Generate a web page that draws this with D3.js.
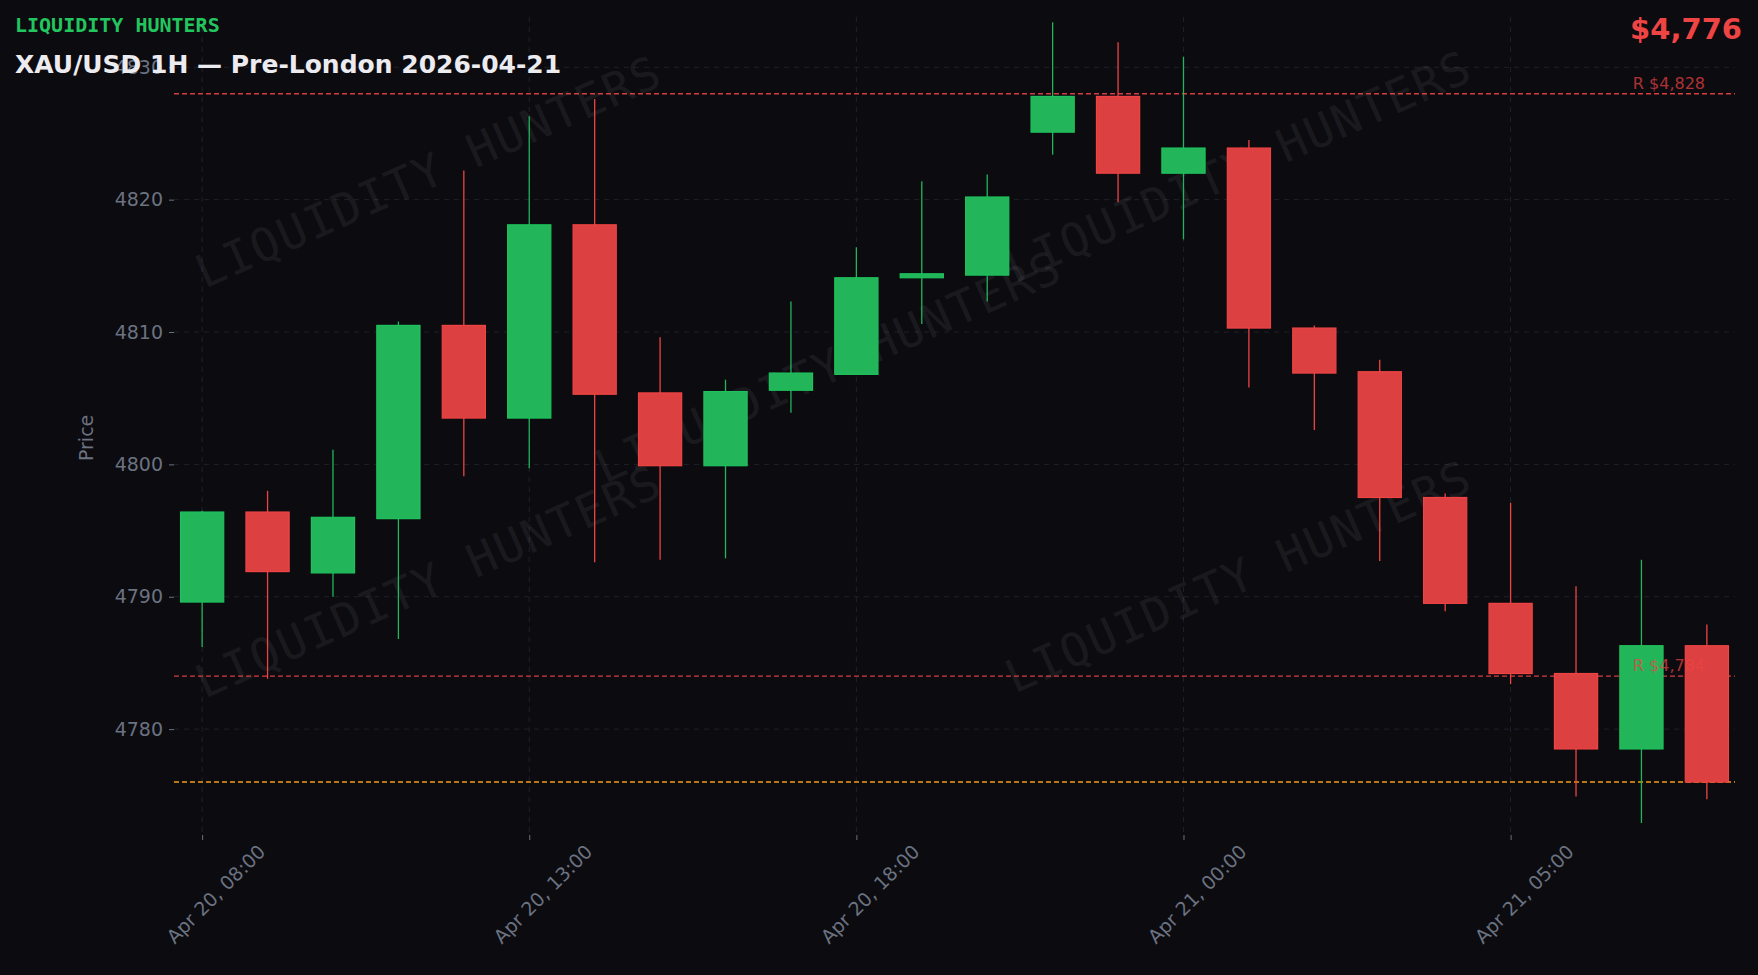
<!DOCTYPE html>
<html>
<head>
<meta charset="utf-8">
<script src="https://cdn.jsdelivr.net/npm/d3@7"></script>
<style>
  html, body { margin: 0; padding: 0; background: #0b0b10; }
  svg { display: block; }
</style>
</head>
<body>
<div id="container"></div>
<script>
// hourly candles, Apr 20 08:00 -> Apr 21 08:00 (23:00 break skipped)
const times = d3.range(8, 23).map(h => new Date(2026, 3, 20, h))
  .concat(d3.range(0, 9).map(h => new Date(2026, 3, 21, h)));
const opens  = [4789.6, 4796.4, 4791.8, 4795.9, 4810.5, 4803.5, 4818.1, 4805.4, 4799.9, 4805.6, 4806.8, 4814.1,
                4814.3, 4825.1, 4827.8, 4822.0, 4823.9, 4810.3, 4807.0, 4797.5, 4789.5, 4784.2, 4778.5, 4786.3];
const highs  = [4796.5, 4798.0, 4801.1, 4810.8, 4822.2, 4826.3, 4827.6, 4809.6, 4806.4, 4812.3, 4816.4, 4821.4,
                4821.9, 4833.4, 4831.9, 4830.8, 4824.5, 4810.5, 4807.9, 4797.8, 4797.1, 4790.8, 4792.8, 4787.9];
const lows   = [4786.2, 4783.8, 4790.0, 4786.8, 4799.1, 4799.7, 4792.6, 4792.8, 4792.9, 4803.9, 4806.8, 4810.6,
                4812.3, 4823.4, 4819.8, 4817.0, 4805.8, 4802.6, 4792.7, 4788.9, 4783.4, 4774.9, 4772.9, 4774.7];
const closes = [4796.4, 4791.9, 4796.0, 4810.5, 4803.5, 4818.1, 4805.3, 4799.9, 4805.5, 4806.9, 4814.1, 4814.4,
                4820.2, 4827.8, 4822.0, 4823.9, 4810.3, 4806.9, 4797.5, 4789.5, 4784.2, 4778.5, 4786.3, 4776.0];
const resistances = [4828, 4784];
const lastPrice = 4776;
const yTicks = [4780, 4790, 4800, 4810, 4820, 4830];
const xTickIdx = [0, 5, 10, 15, 20];

const W = 1758, H = 975;
const m = { left: 174, right: 23, top: 17, bottom: 140 };
const green = '#22b55a', red = '#dc4040';

const svg = d3.select('#container').append('svg').attr('width', W).attr('height', H);
svg.append('rect').attr('width', W).attr('height', H).attr('fill', '#0b0b10');

const x = d3.scaleLinear().domain([-0.43, 23.43]).range([m.left, W - m.right]);
const y = d3.scaleLinear().domain([4772, 4833.8]).range([H - m.bottom, m.top]);
const bw = (x(1) - x(0)) * 0.66;

// grid
const grid = svg.append('g').attr('stroke', '#2a2a35').attr('stroke-dasharray', '5,5').attr('stroke-width', 1);
grid.selectAll('.hg').data(yTicks).enter().append('line')
  .attr('x1', m.left).attr('x2', W - m.right).attr('y1', d => y(d)).attr('y2', d => y(d)).attr('opacity', 0.7);
grid.selectAll('.vg').data(xTickIdx).enter().append('line')
  .attr('x1', d => x(d)).attr('x2', d => x(d)).attr('y1', m.top).attr('y2', H - m.bottom).attr('opacity', 0.7);

// watermarks
const wm = [[430, 175], [830, 370], [1240, 170], [430, 585], [1240, 580]];
svg.append('g').selectAll('text').data(wm).enter().append('text')
  .attr('transform', d => `translate(${d[0]},${d[1]}) rotate(-24)`)
  .attr('text-anchor', 'middle').attr('dominant-baseline', 'middle')
  .attr('font-family', 'DejaVu Sans Mono, monospace').attr('font-size', 46)
  .attr('fill', '#ffffff').attr('opacity', 0.06).attr('letter-spacing', 2)
  .text('LIQUIDITY HUNTERS');

// level lines
svg.selectAll('.res').data(resistances).enter().append('line')
  .attr('x1', m.left).attr('x2', W - m.right).attr('y1', d => y(d)).attr('y2', d => y(d))
  .attr('stroke', '#ef4444').attr('stroke-width', 1.4).attr('stroke-dasharray', '5,3').attr('opacity', 0.9);
svg.append('line')
  .attr('x1', m.left).attr('x2', W - m.right).attr('y1', y(lastPrice)).attr('y2', y(lastPrice))
  .attr('stroke', '#f59e0b').attr('stroke-width', 1.5).attr('stroke-dasharray', '5,3');

// candles
const idx = d3.range(opens.length);
const cg = svg.append('g');
cg.selectAll('.wick').data(idx).enter().append('line')
  .attr('x1', i => x(i)).attr('x2', i => x(i))
  .attr('y1', i => y(highs[i])).attr('y2', i => y(lows[i]))
  .attr('stroke', i => closes[i] >= opens[i] ? green : '#ef4444').attr('stroke-width', 1.3);
cg.selectAll('.body').data(idx).enter().append('rect')
  .attr('x', i => x(i) - bw / 2).attr('width', bw)
  .attr('y', i => y(Math.max(opens[i], closes[i])))
  .attr('height', i => Math.max(1.5, Math.abs(y(opens[i]) - y(closes[i]))))
  .attr('fill', i => closes[i] >= opens[i] ? green : red)
  .attr('stroke', i => closes[i] >= opens[i] ? '#1fc25c' : '#ef4444').attr('stroke-width', 1.2);

// level labels
svg.selectAll('.rl').data(resistances).enter().append('text')
  .attr('x', W - m.right - 30).attr('y', d => y(d) - 5).attr('text-anchor', 'end')
  .attr('font-family', 'DejaVu Sans, sans-serif').attr('font-size', 16)
  .attr('fill', '#ef4444').attr('opacity', 0.7)
  .text(d => 'R $' + d3.format(',')(d));

// axes
const yAxis = svg.append('g').attr('transform', `translate(${m.left},0)`)
  .call(d3.axisLeft(y).tickValues(yTicks).tickFormat(d3.format('d')).tickSize(5).tickPadding(6));
const xAxis = svg.append('g').attr('transform', `translate(0,${H - m.bottom})`)
  .call(d3.axisBottom(x).tickValues(xTickIdx).tickSize(5).tickPadding(8)
    .tickFormat(i => d3.timeFormat('%b %-d, %H:%M')(times[i])));
[yAxis, xAxis].forEach(a => {
  a.select('.domain').remove();
  a.selectAll('line').attr('stroke', '#6b7280');
  a.selectAll('text').attr('fill', '#6b7280').attr('font-family', 'DejaVu Sans, sans-serif').attr('font-size', 19);
});
xAxis.selectAll('text')
  .attr('text-anchor', 'end').attr('dy', '0.35em')
  .attr('transform', 'translate(50,4) rotate(-45)');

svg.append('text').attr('transform', `translate(93,${y(4802)}) rotate(-90)`)
  .attr('text-anchor', 'middle').attr('font-family', 'DejaVu Sans, sans-serif').attr('font-size', 19)
  .attr('fill', '#6b7280').text('Price');

// header texts
svg.append('text').attr('x', 15).attr('y', 32)
  .attr('font-family', 'DejaVu Sans Mono, monospace').attr('font-weight', 'bold').attr('font-size', 20)
  .attr('fill', '#22c55e').text('LIQUIDITY HUNTERS');
svg.append('text').attr('x', 15).attr('y', 73)
  .attr('font-family', 'DejaVu Sans, sans-serif').attr('font-weight', 'bold').attr('font-size', 25)
  .attr('fill', '#ececf0').text('XAU/USD 1H — Pre-London 2026-04-21');
svg.append('text').attr('x', W - 16).attr('y', 39).attr('text-anchor', 'end')
  .attr('font-family', 'DejaVu Sans, sans-serif').attr('font-weight', 'bold').attr('font-size', 29)
  .attr('fill', '#ef4444').text('$' + d3.format(',')(lastPrice));
</script>
</body>
</html>
